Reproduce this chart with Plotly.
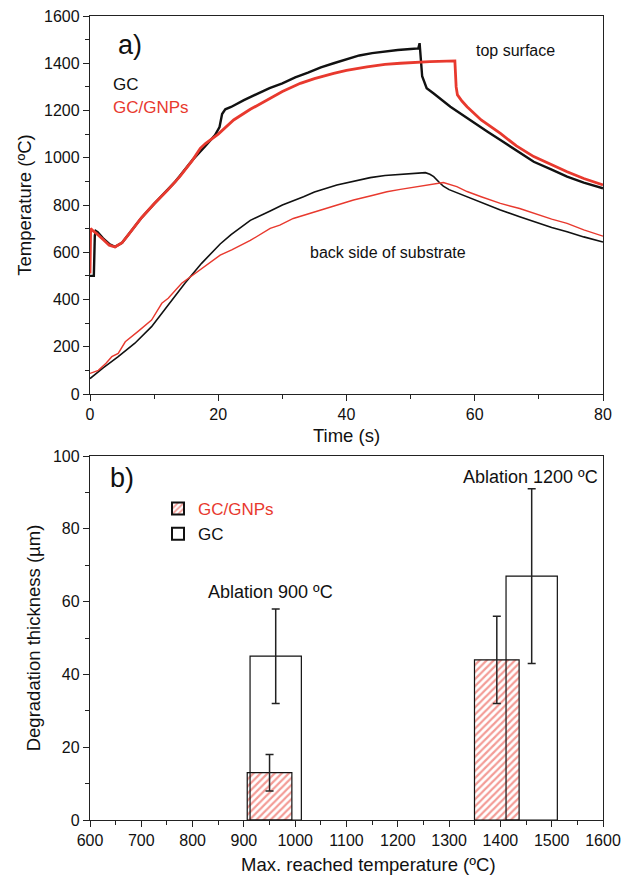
import plotly.graph_objects as go

# ---------- Panel a data (time in s, temperature in ºC) ----------
gc_top_t = [0, 0.6, 0.75, 0.9, 1.2, 2, 3, 3.9, 5, 6, 8, 10, 12, 13.3, 14, 16, 18, 19.5, 20.2, 20.6, 21.1, 22, 24, 26, 28, 30, 32, 34, 36, 38, 40, 42, 44, 46, 48, 50, 51.2, 51.4, 51.6, 51.8, 52.5, 53.6, 56.2, 58.8, 62, 64, 66.5, 69.2, 72, 74.4, 77, 80]
gc_top_T = [500, 500, 670, 690, 685, 660, 635, 623, 640, 675, 745, 805, 860, 899, 923, 991, 1050, 1096, 1130, 1185, 1205, 1215, 1244, 1270, 1295, 1315, 1340, 1360, 1383, 1400, 1415, 1433, 1443, 1450, 1456, 1460, 1463, 1485, 1400, 1345, 1294, 1272, 1216, 1167, 1110, 1075, 1030, 983, 950, 920, 895, 871]

gnp_top_t = [0, 0.1, 0.5, 1, 2, 3, 3.9, 5, 6, 8, 10, 12, 14, 16, 17.2, 18, 20, 22.4, 25, 27.6, 30, 32.8, 35, 38, 40, 43.2, 46, 48.4, 51, 53, 56.9, 57.1, 57.3, 58, 58.8, 61, 64, 66.5, 69.2, 72, 74.4, 77, 80]
gnp_top_T = [510, 700, 690, 680, 655, 630, 622, 640, 675, 745, 805, 860, 920, 990, 1040, 1060, 1100, 1160, 1205, 1244, 1280, 1315, 1335, 1357, 1370, 1385, 1395, 1400, 1405, 1407, 1410, 1300, 1266, 1240, 1216, 1160, 1103, 1050, 1005, 970, 941, 912, 885]

gc_back_t = [0, 2, 4.4, 7, 9.6, 11, 12.7, 14.8, 17.4, 19.5, 20.3, 22, 25, 28.1, 30, 33.3, 35, 38.5, 41, 43.7, 46, 48.9, 52.3, 53, 53.6, 54.6, 55.1, 56, 58.8, 61, 64, 67, 69.2, 72, 74.4, 77, 80]
gc_back_T = [65, 110, 158, 215, 285, 335, 398, 469, 553, 610, 635, 675, 735, 775, 800, 835, 855, 885, 900, 916, 925, 931, 937, 930, 920, 892, 880, 865, 835, 810, 779, 750, 729, 705, 687, 665, 643]

gnp_back_t = [0, 1.3, 2.5, 3.4, 4.4, 5.5, 7.5, 9.6, 11.2, 12.2, 14.3, 17.4, 20.3, 22.1, 25, 28.1, 29.6, 31.7, 35.9, 38, 41.1, 44, 46.3, 48.4, 51.5, 55.1, 57.2, 58.8, 61, 64, 67, 69.2, 72, 74.4, 77, 80]
gnp_back_T = [87, 100, 130, 158, 172, 221, 265, 313, 384, 405, 469, 532, 588, 610, 650, 701, 715, 743, 779, 795, 821, 840, 856, 866, 878, 895, 878, 857, 835, 807, 785, 765, 740, 722, 695, 668]

# ---------- Panel b data ----------
gnp_x = [950, 1393]          # max reached temperature (ºC)
gnp_y = [13, 44]             # degradation thickness (µm)
gnp_err_plus = [5, 12]
gnp_err_minus = [5, 12]
gc_x = [962, 1461]
gc_y = [45, 67]
gc_err_plus = [13, 24]
gc_err_minus = [13, 24]

RED = "#e8392e"
BLACK = "#111111"
AX = "#222222"
FONT = "Liberation Sans, Arial, sans-serif"

W, H = 626, 881


def px_x(p):
    return p / W


def px_y(p):
    return 1 - p / H


fig = go.Figure()

# Panel a traces
fig.add_trace(go.Scatter(x=gc_back_t, y=gc_back_T, mode="lines", line=dict(color=BLACK, width=1.6),
                         showlegend=False, xaxis="x", yaxis="y"))
fig.add_trace(go.Scatter(x=gnp_back_t, y=gnp_back_T, mode="lines", line=dict(color=RED, width=1.4),
                         showlegend=False, xaxis="x", yaxis="y"))
fig.add_trace(go.Scatter(x=gc_top_t, y=gc_top_T, mode="lines", line=dict(color=BLACK, width=2.4),
                         showlegend=False, xaxis="x", yaxis="y"))
fig.add_trace(go.Scatter(x=gnp_top_t, y=gnp_top_T, mode="lines", line=dict(color=RED, width=2.8),
                         showlegend=False, xaxis="x", yaxis="y"))

# Panel b traces
fig.add_trace(go.Bar(x=gnp_x, y=gnp_y, width=[87, 87], name="<span style='color:%s'>GC/GNPs</span>" % RED,
                     marker=dict(color="white", line=dict(color=BLACK, width=1.2),
                                 pattern=dict(shape="/", fgcolor=RED, bgcolor="white", size=5, solidity=0.45)),
                     error_y=dict(type="data", array=gnp_err_plus, arrayminus=gnp_err_minus,
                                  color=AX, thickness=1.5, width=4),
                     xaxis="x2", yaxis="y2"))
fig.add_trace(go.Bar(x=gc_x, y=gc_y, width=[100, 100], name="GC",
                     marker=dict(color="rgba(255,255,255,0)", line=dict(color=BLACK, width=1.2)),
                     error_y=dict(type="data", array=gc_err_plus, arrayminus=gc_err_minus,
                                  color=AX, thickness=1.5, width=4),
                     xaxis="x2", yaxis="y2"))

xdom = [px_x(90), px_x(603)]
axis_common = dict(showline=True, linecolor=AX, linewidth=1.3, mirror=True, ticks="outside",
                   ticklen=6, tickwidth=1.3, tickcolor=AX, showgrid=False, zeroline=False,
                   automargin=False, ticklabeloverflow="allow",
                   tickfont=dict(size=16, color=BLACK, family=FONT))


def minor(d):
    return dict(ticks="outside", ticklen=4, tickwidth=1.2, tickcolor=AX, dtick=d)


TITLE_SIZE = 18.5

fig.update_layout(
    width=W, height=H,
    margin=dict(l=0, r=0, t=0, b=0, autoexpand=False),
    paper_bgcolor="white", plot_bgcolor="white",
    font=dict(family=FONT, color=BLACK),
    barmode="overlay",
    xaxis=dict(domain=xdom, anchor="y", range=[0, 80], dtick=20, tick0=0, minor=minor(10),
               title=dict(text="Time (s)", font=dict(size=TITLE_SIZE), standoff=6), **axis_common),
    yaxis=dict(domain=[px_y(394), px_y(16)], anchor="x", range=[0, 1600], dtick=200,
               minor=minor(100),
               title=dict(text="Temperature (ºC)", font=dict(size=TITLE_SIZE), standoff=7), **axis_common),
    xaxis2=dict(domain=xdom, anchor="y2", range=[600, 1600], dtick=100, tick0=600, minor=minor(50),
                **axis_common),
    yaxis2=dict(domain=[px_y(820), px_y(456)], anchor="x2", range=[0, 100], dtick=20,
                minor=minor(10),
                title=dict(text="Degradation thickness (µm)", font=dict(size=TITLE_SIZE), standoff=7),
                **axis_common),
    legend=dict(x=px_x(158), y=px_y(491), xanchor="left", yanchor="top",
                bgcolor="rgba(0,0,0,0)", font=dict(size=17, family=FONT, color=BLACK),
                tracegroupgap=0, itemsizing="constant"),
    showlegend=True,
)

ann = [
    dict(x=6.2, y=1477, xref="x", yref="y", text="a)", font=dict(size=27), showarrow=False),
    dict(x=3.2, y=1308, xref="x", yref="y", text="GC", font=dict(size=17, color=BLACK), showarrow=False, xanchor="left"),
    dict(x=3.2, y=1211, xref="x", yref="y", text="GC/GNPs", font=dict(size=17, color=RED), showarrow=False, xanchor="left"),
    dict(x=66.3, y=1456, xref="x", yref="y", text="top surface", font=dict(size=16), showarrow=False),
    dict(x=46.5, y=601, xref="x", yref="y", text="back side of substrate", font=dict(size=16), showarrow=False),
    dict(x=662, y=94, xref="x2", yref="y2", text="b)", font=dict(size=27), showarrow=False),
    dict(x=952, y=62.6, xref="x2", yref="y2", text="Ablation 900 ºC", font=dict(size=18), showarrow=False),
    dict(x=1458, y=94.2, xref="x2", yref="y2", text="Ablation 1200 ºC", font=dict(size=18), showarrow=False),
    dict(x=px_x(368), y=px_y(864), xref="paper", yref="paper", xanchor="center", yanchor="middle",
         text="Max. reached temperature (ºC)", font=dict(size=TITLE_SIZE), showarrow=False),
]
fig.update_layout(annotations=ann)

fig.write_html("out.html", config={"displayModeBar": False},
               post_script="document.body.style.margin='0';document.body.style.overflow='hidden';")
